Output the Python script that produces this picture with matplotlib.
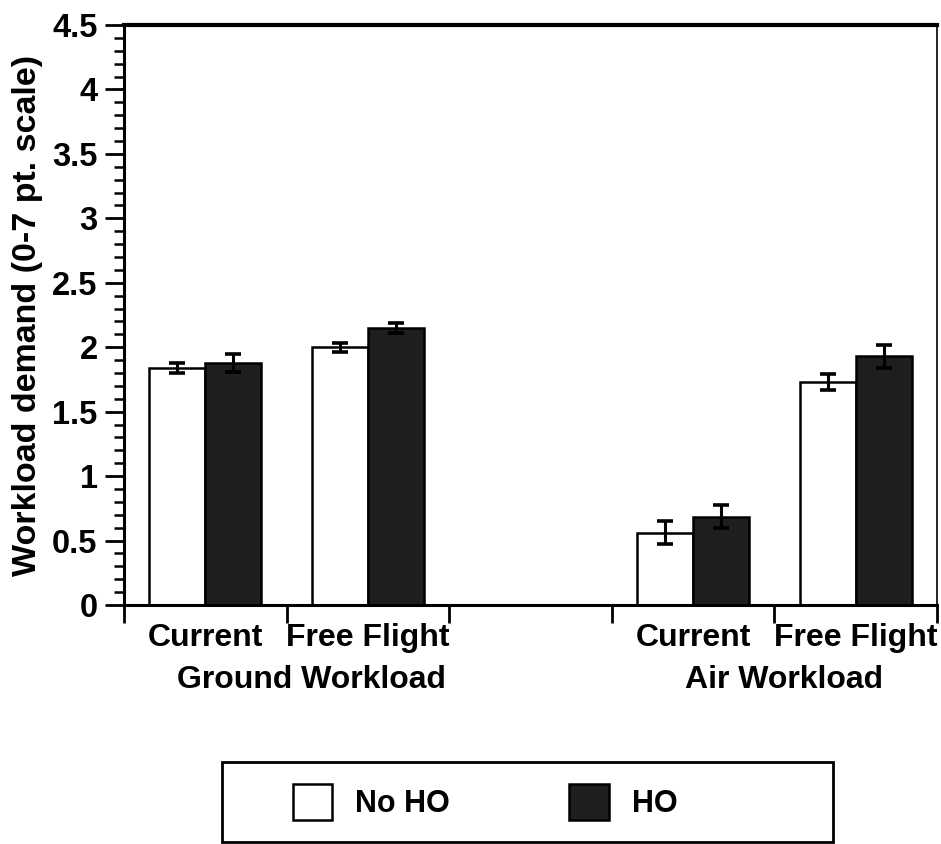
import numpy as np
import matplotlib
matplotlib.use('Agg')
import matplotlib.pyplot as plt
from matplotlib.patches import Patch, Rectangle
from matplotlib.ticker import MultipleLocator, FuncFormatter

plt.rcParams['font.family'] = ['Liberation Sans', 'DejaVu Sans']
plt.rcParams['font.weight'] = 'bold'
plt.rcParams['axes.labelweight'] = 'bold'

# data
categories = ['Current', 'Free Flight', 'Current', 'Free Flight']
slots = [0.5, 1.5, 3.5, 4.5]          # slot 2 is an empty gap between the groups
groups = ['Ground Workload', 'Air Workload']
no_ho = [1.84, 2.00, 0.56, 1.73]
no_ho_err = [0.04, 0.035, 0.09, 0.06]
ho = [1.88, 2.15, 0.685, 1.93]
ho_err = [0.07, 0.04, 0.09, 0.09]

fig = plt.figure(figsize=(9.41, 8.44), dpi=100)
ax = fig.add_axes([124 / 941, 1 - 605 / 844, 813 / 941, 580 / 844])

w = 0.345
x = np.array(slots)
ax.bar(x - w / 2, no_ho, w, color='white', edgecolor='black', linewidth=1.8, zorder=2)
ax.bar(x + w / 2, ho, w, color='#1e1e1e', edgecolor='black', linewidth=1.8, zorder=2)
ax.errorbar(x - w / 2, no_ho, yerr=no_ho_err, fmt='none', ecolor='black',
            elinewidth=2.2, capsize=6, capthick=2.6, zorder=3)
ax.errorbar(x + w / 2, ho, yerr=ho_err, fmt='none', ecolor='black',
            elinewidth=2.2, capsize=6, capthick=2.6, zorder=3)

ax.set_xlim(0, 5)
ax.set_ylim(0, 4.5)
ax.yaxis.set_major_locator(MultipleLocator(0.5))
ax.yaxis.set_minor_locator(MultipleLocator(0.1))
ax.yaxis.set_major_formatter(FuncFormatter(lambda v, p: f'{v:g}'))
ax.tick_params(axis='y', which='major', length=14, width=2, labelsize=23.5, pad=5)
ax.tick_params(axis='y', which='minor', length=7, width=1.8)

ax.set_xticks(np.arange(0, 6))
ax.set_xticklabels([])
ax.tick_params(axis='x', which='major', length=13, width=2)
ax.set_xticks(slots, minor=True)
ax.set_xticklabels(categories, minor=True, fontsize=23)
ax.tick_params(axis='x', which='minor', length=0, pad=13)

ax.text(1.15, -0.104, groups[0], transform=ax.get_xaxis_transform(),
        ha='center', va='top', fontsize=23)
ax.text(4.06, -0.104, groups[1], transform=ax.get_xaxis_transform(),
        ha='center', va='top', fontsize=23)

ax.set_ylabel('Workload demand (0-7 pt. scale)', fontsize=24.5, labelpad=7)

ax.spines['top'].set_linewidth(3)
ax.spines['left'].set_linewidth(2.2)
ax.spines['bottom'].set_linewidth(2.2)
ax.spines['right'].set_linewidth(1.2)

handles = [Patch(facecolor='white', edgecolor='black', linewidth=1.8),
           Patch(facecolor='#1e1e1e', edgecolor='black', linewidth=1.8)]
fig.legend(handles, ['No HO', 'HO'], loc='center left',
           bbox_to_anchor=(265 / 941, 1 - 802 / 844), ncol=2, frameon=False,
           fontsize=22, handlelength=1.3, handleheight=1.4,
           handletextpad=0.75, columnspacing=3.9)
fig.patches.append(Rectangle((222 / 941, 2 / 844), 611 / 941, 80 / 844,
                             transform=fig.transFigure, fill=False,
                             edgecolor='black', linewidth=2))

fig.savefig('out.png', dpi=100)
